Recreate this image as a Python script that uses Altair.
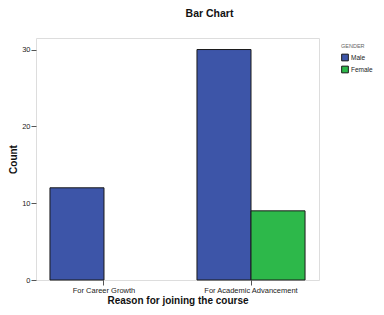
import altair as alt
import pandas as pd

reasons = ["For Career Growth", "For Academic Advancement", "For Academic Advancement"]
genders = ["Male", "Male", "Female"]
counts = [12, 30, 9]

df = pd.DataFrame({"reason": reasons, "gender": genders, "count": counts})

FONT = "Liberation Sans"

bars = alt.Chart(df).mark_bar(stroke="#1a1a1a", strokeWidth=1).encode(
    x=alt.X("reason:N",
            sort=["For Career Growth", "For Academic Advancement"],
            scale=alt.Scale(paddingInner=0.265, paddingOuter=0.095),
            axis=alt.Axis(title="Reason for joining the course", labelAngle=0,
                          labelFontSize=7.5, labelColor="#222", labelFont=FONT,
                          titleFont=FONT, titleFontSize=10, titleFontWeight="bold",
                          titleColor="#111", tickSize=5, tickColor="#555", domain=False,
                          titlePadding=2, labelPadding=1, bandPosition=0.5)),
    xOffset=alt.XOffset("gender:N", sort=["Male", "Female"],
                        scale=alt.Scale(domain=["Male", "Female"], paddingInner=0, paddingOuter=0)),
    y=alt.Y("count:Q", scale=alt.Scale(domain=[0, 31.5], nice=False),
            axis=alt.Axis(title="Count", values=[0, 10, 20, 30], grid=False,
                          labelFontSize=7.5, labelColor="#222", labelFont=FONT,
                          titleFont=FONT, titleFontSize=10, titleFontWeight="bold",
                          titleColor="#111", tickSize=5, tickColor="#555", domain=False,
                          titlePadding=3, labelPadding=1)),
    color=alt.Color("gender:N", sort=["Male", "Female"],
                    scale=alt.Scale(domain=["Male", "Female"], range=["#3d55a8", "#2db84a"]),
                    legend=alt.Legend(title="GENDER", titleFontSize=5.5, titleColor="#666",
                                      titleFontWeight="normal", titleFont=FONT,
                                      labelFont=FONT, labelFontSize=6.5, labelColor="#222",
                                      symbolType="square", symbolSize=45, symbolStrokeColor="#1a1a1a",
                                      symbolStrokeWidth=1, rowPadding=0, padding=0,
                                      titlePadding=4, labelOffset=2,
                                      orient="none", legendX=305, legendY=6)),
)

chart = bars.properties(
    width=283, height=242,
    title=alt.TitleParams("Bar Chart", font=FONT, fontSize=10.5, fontWeight="bold",
                          color="#111", anchor="middle", dx=32, offset=19),
    autosize=alt.AutoSizeParams(type="none"),
    padding={"left": 28, "top": 30, "right": 57, "bottom": 27},
).configure_view(
    fill="#f0f0f0", stroke="#808080", strokeWidth=1.5
).configure(background="white")

chart.save("out.html", embed_options={"renderer": "svg", "actions": False})
